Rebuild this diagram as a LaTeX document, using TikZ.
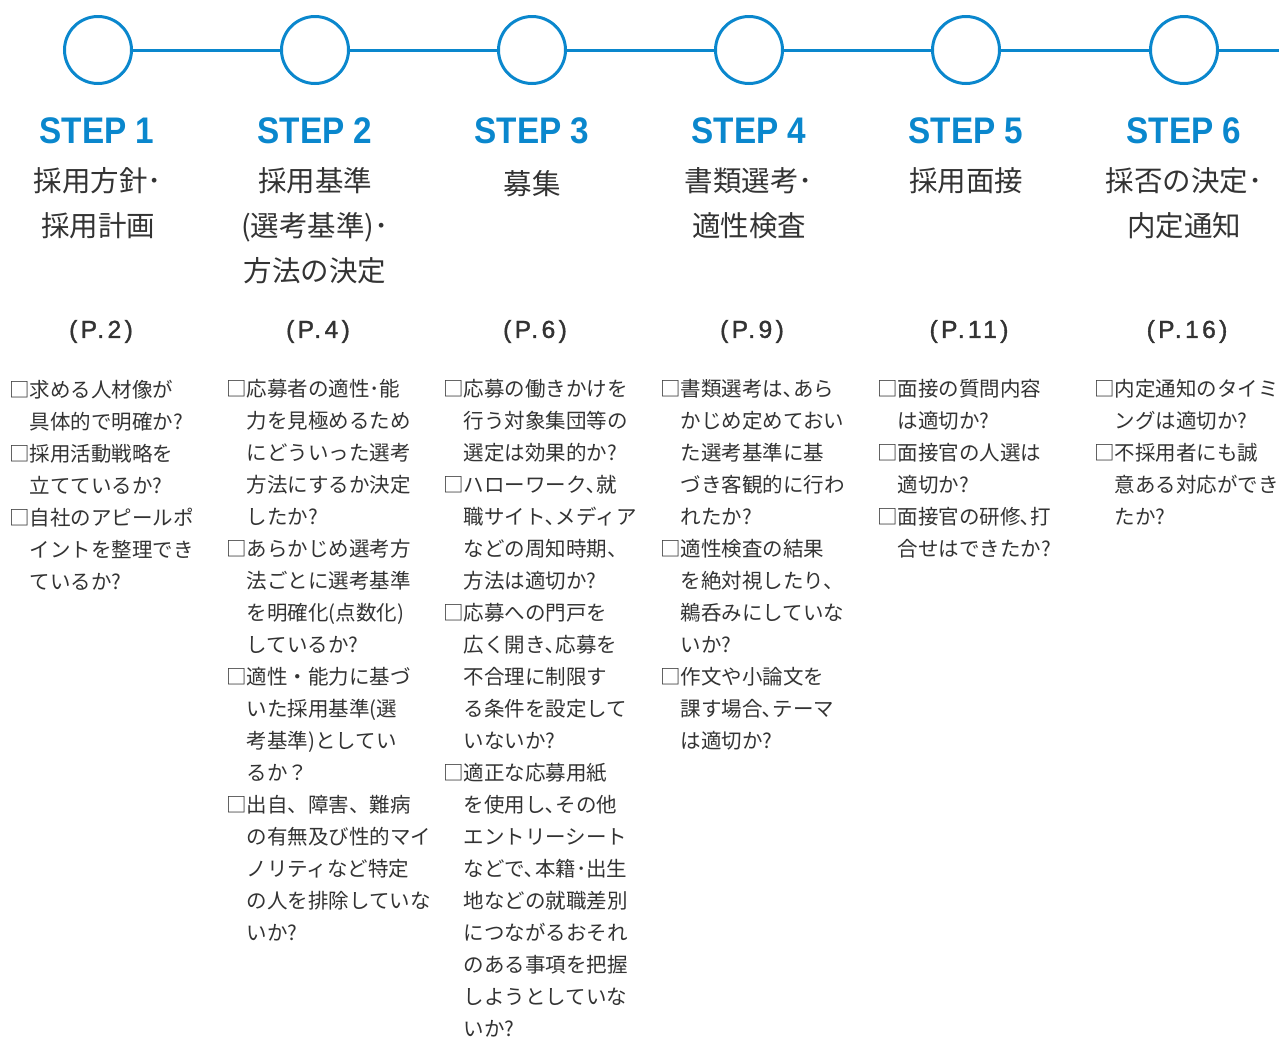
\documentclass[tikz,border=0pt]{standalone}
\usepackage{fontspec}
\newfontfamily\jpfont{Noto Sans CJK JP}
\newfontfamily\stepfont[FakeStretch=0.9]{Liberation Sans}
\newfontfamily\pagefont[FakeBold=1.5,LetterSpace=14]{Liberation Sans}
\definecolor{stepblue}{HTML}{0A87CD}
\definecolor{textgray}{HTML}{333333}
\begin{document}
\begin{tikzpicture}[x=1pt,y=1pt,
    stepcirc/.style={circle,draw=stepblue,line width=3pt,minimum size=67pt,inner sep=0pt},
    link/.style={draw=stepblue,line width=3pt},
    steplabel/.style={text=stepblue,font=\stepfont\bfseries\fontsize{37}{37}\selectfont,inner sep=0pt},
    titletext/.style={text=textgray,font=\jpfont\fontsize{28.5}{45}\selectfont,align=center,anchor=north,inner sep=0pt},
    pagenum/.style={text=textgray,font=\pagefont\fontsize{24.5}{25}\selectfont,inner sep=0pt},
    checks/.style={text=textgray,font=\jpfont\fontsize{20.5}{32}\selectfont,align=left,anchor=north west,inner sep=0pt}
]
\useasboundingbox (0,0) rectangle (1279,-1037);
\node[stepcirc] (s1) at (98,-50) {};
\node[stepcirc] (s2) at (315,-50) {};
\node[stepcirc] (s3) at (532,-50) {};
\node[stepcirc] (s4) at (749,-50) {};
\node[stepcirc] (s5) at (966,-50) {};
\node[stepcirc] (s6) at (1184,-50) {};
\coordinate (rend) at (1279,-50);
\draw[link] (s1) -- (s2);
\draw[link] (s2) -- (s3);
\draw[link] (s3) -- (s4);
\draw[link] (s4) -- (s5);
\draw[link] (s5) -- (s6);
\draw[link] (s6) -- (rend);

\node[steplabel] (lab1) at (97,-131) {STEP 1};
\node[steplabel] (lab2) at (315,-131) {STEP 2};
\node[steplabel] (lab3) at (532,-131) {STEP 3};
\node[steplabel] (lab4) at (749,-131) {STEP 4};
\node[steplabel] (lab5) at (966,-131) {STEP 5};
\node[steplabel] (lab6) at (1184,-131) {STEP 6};

\node[titletext] (t1) at (98,-167) {採用方針･\\採用計画};
\node[titletext] (t2) at (315,-167) {採用基準\\(選考基準)･\\方法の決定};
\node[titletext] (t3) at (532,-170) {募集};
\node[titletext] (t4) at (749,-167) {書類選考･\\適性検査};
\node[titletext] (t5) at (966,-167) {採用面接};
\node[titletext] (t6) at (1184,-167) {採否の決定･\\内定通知};

\node[pagenum] (p1) at (101,-331.5) {(P.2)};
\node[pagenum] (p2) at (318,-331.5) {(P.4)};
\node[pagenum] (p3) at (535,-331.5) {(P.6)};
\node[pagenum] (p4) at (752,-331.5) {(P.9)};
\node[pagenum] (p5) at (969,-331.5) {(P.11)};
\node[pagenum] (p6) at (1187,-331.5) {(P.16)};

\node[checks] (c1) at (9,-379.5) {□求める人材像が\\　具体的で明確か?\\□採用活動戦略を\\　立てているか?\\□自社のアピールポ\\　イントを整理でき\\　ているか?};
\node[checks] (c2) at (226,-379.5) {□応募者の適性･能\\　力を見極めるため\\　にどういった選考\\　方法にするか決定\\　したか?\\□あらかじめ選考方\\　法ごとに選考基準\\　を明確化(点数化)\\　しているか?\\□適性・能力に基づ\\　いた採用基準(選\\　考基準)としてい\\　るか？\\□出自、障害、難病\\　の有無及び性的マイ\\　ノリティなど特定\\　の人を排除していな\\　いか?};
\node[checks] (c3) at (443,-379.5) {□応募の働きかけを\\　行う対象集団等の\\　選定は効果的か?\\□ハローワーク､就\\　職サイト､メディア\\　などの周知時期、\\　方法は適切か?\\□応募への門戸を\\　広く開き､応募を\\　不合理に制限す\\　る条件を設定して\\　いないか?\\□適正な応募用紙\\　を使用し､その他\\　エントリーシート\\　などで､本籍･出生\\　地などの就職差別\\　につながるおそれ\\　のある事項を把握\\　しようとしていな\\　いか?};
\node[checks] (c4) at (660,-379.5) {□書類選考は､あら\\　かじめ定めておい\\　た選考基準に基\\　づき客観的に行わ\\　れたか?\\□適性検査の結果\\　を絶対視したり、\\　鵜呑みにしていな\\　いか?\\□作文や小論文を\\　課す場合､テーマ\\　は適切か?};
\node[checks] (c5) at (877,-379.5) {□面接の質問内容\\　は適切か?\\□面接官の人選は\\　適切か?\\□面接官の研修､打\\　合せはできたか?};
\node[checks] (c6) at (1094,-379.5) {□内定通知のタイミ\\　ングは適切か?\\□不採用者にも誠\\　意ある対応ができ\\　たか?};
\end{tikzpicture}
\end{document}
